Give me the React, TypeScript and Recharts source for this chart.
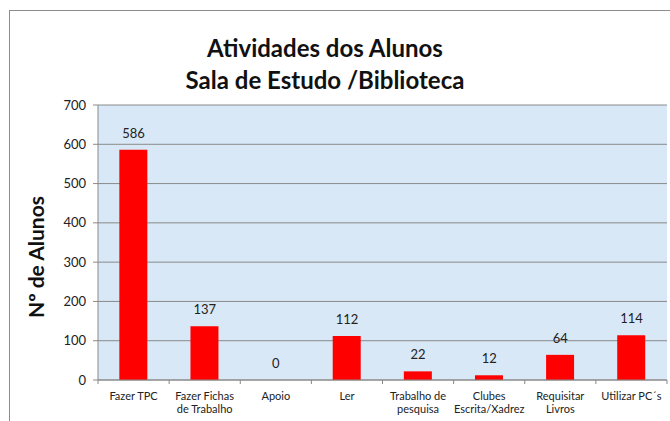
import React from "react";
import { ComposedChart, Bar, Line, XAxis, YAxis, CartesianGrid, LabelList } from "recharts";

const categories = [
  "Fazer TPC",
  "Fazer Fichas\nde Trabalho",
  "Apoio",
  "Ler",
  "Trabalho de\npesquisa",
  "Clubes\nEscrita/Xadrez",
  "Requisitar\nLivros",
  "Utilizar PC´s",
];
const values = [586, 137, 0, 112, 22, 12, 64, 114];
const yTicks = [0, 100, 200, 300, 400, 500, 600, 700];

const data = categories.map((c, i) => ({ name: c, value: values[i] }));

const FONT = "Lato, 'Open Sans', sans-serif";
const CHART_W = 670;
const CHART_H = 421;
const X_AXIS_H = 41;
const MARGIN = { top: 105, right: 3, bottom: 0, left: 38 };
const Y_AXIS_W = 60;
const PLOT_W = CHART_W - MARGIN.left - MARGIN.right - Y_AXIS_W;
const BAND = PLOT_W / categories.length;

const XTick = (props: any) => {
  const { x, y, payload } = props;
  const lines = String(payload.value).split("\n");
  return (
    <g>
      <line x1={x - BAND / 2} x2={x - BAND / 2} y1={y - 6} y2={y - 2} stroke="#888" />
      {payload.index === categories.length - 1 && (
        <line x1={x + BAND / 2} x2={x + BAND / 2} y1={y - 6} y2={y - 2} stroke="#888" />
      )}
      <text x={x} y={y} textAnchor="middle" fontSize={11} fill="#222" fontFamily={FONT}>
        {lines.map((l, i) => (
          <tspan key={i} x={x} dy={i === 0 ? 14 : 13}>
            {l}
          </tspan>
        ))}
      </text>
    </g>
  );
};

export default function App() {
  return (
    <div
      style={{
        position: "absolute",
        left: 0,
        top: 0,
        width: CHART_W,
        height: CHART_H,
        overflow: "hidden",
        background: "#fff",
      }}
    >
      <div
        style={{
          position: "absolute",
          left: 9,
          top: 10,
          width: 700,
          height: 440,
          border: "1px solid #8c8c8c",
        }}
      />
      <div
        style={{
          position: "absolute",
          left: 0,
          top: 32,
          width: 650,
          textAlign: "center",
          fontFamily: FONT,
          fontWeight: 700,
          fontSize: 24,
          lineHeight: "32px",
          color: "#111",
        }}
      >
        Atividades dos Alunos
        <br />
        Sala de Estudo /Biblioteca
      </div>
      <div style={{ position: "absolute", left: 0, top: 0 }}>
        <ComposedChart
          width={CHART_W}
          height={CHART_H}
          data={data}
          margin={MARGIN}
          barCategoryGap="30%"
        >
          <CartesianGrid
            vertical={false}
            stroke="#8a8a8a"
            fill="#d9e8f6"
            fillOpacity={1}
          />
          <XAxis
            dataKey="name"
            interval={0}
            height={X_AXIS_H}
            tickLine={false}
            axisLine={{ stroke: "#8a8a8a" }}
            tick={<XTick />}
            tickMargin={0}
          />
          <YAxis
            width={Y_AXIS_W}
            domain={[0, 700]}
            ticks={yTicks}
            interval={0}
            tickSize={5}
            tickMargin={7}
            tickLine={{ stroke: "#8a8a8a" }}
            axisLine={{ stroke: "#8a8a8a" }}
            tick={{ fontSize: 13, fill: "#222", fontFamily: FONT }}
            label={{
              content: () => (
                <text
                  x={35}
                  y={257}
                  transform="rotate(-90 35 257)"
                  textAnchor="middle"
                  dominantBaseline="central"
                  fontFamily={FONT}
                  fontWeight={700}
                  fontSize={21}
                  fill="#111"
                >
                  Nº de Alunos
                </text>
              ),
            }}
          />
          <Bar dataKey="value" fill="#ff0000" isAnimationActive={false} />
          <Line
            dataKey="value"
            stroke="none"
            dot={false}
            activeDot={false}
            isAnimationActive={false}
            legendType="none"
          >
            <LabelList
              dataKey="value"
              position="top"
              offset={12}
              fontSize={13}
              fill="#222"
              fontFamily={FONT}
            />
          </Line>
        </ComposedChart>
      </div>
    </div>
  );
}
